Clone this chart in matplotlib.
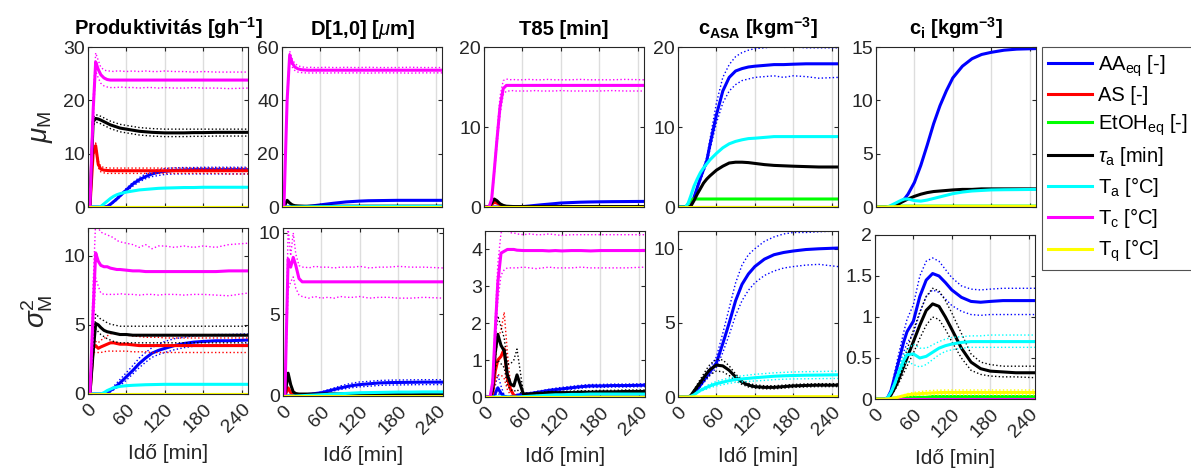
import matplotlib
matplotlib.use('Agg')
import matplotlib.pyplot as plt
from matplotlib.lines import Line2D

plt.rcParams['font.family'] = ['Liberation Sans', 'DejaVu Sans']
plt.rcParams['mathtext.fontset'] = 'custom'
plt.rcParams['mathtext.rm'] = 'Liberation Sans'
plt.rcParams['mathtext.it'] = 'Liberation Sans:italic'
plt.rcParams['mathtext.bf'] = 'Liberation Sans:bold'
plt.rcParams['mathtext.default'] = 'regular'

# time grid [min]
t_min = [0, 3, 8, 12, 16, 20, 25, 30, 35, 40, 45, 50, 60, 70, 80, 90, 100, 110, 120, 135, 150, 165, 180, 200, 220, 250]
zero_line = [0, 0, 0, 0, 0, 0, 0, 0, 0, 0, 0, 0, 0, 0, 0, 0, 0, 0, 0, 0, 0, 0, 0, 0, 0, 0]

# --- Produktivitas, mean ---
prod_mu_aa = [0, 0, 0, 0, 0, 0, 0, 0.1, 0.5, 1.0, 1.5, 2.1, 3.2, 4.3, 5.1, 5.7, 6.2, 6.5, 6.7, 6.85, 6.95, 7.0, 7.0, 7.0, 7.0, 7.0]
prod_mu_aa_hi = [0, 0, 0, 0, 0, 0, 0, 0.15, 0.6, 1.15, 1.7, 2.3, 3.5, 4.6, 5.5, 6.2, 6.7, 7.0, 7.2, 7.35, 7.4, 7.4, 7.45, 7.45, 7.45, 7.45]
prod_mu_aa_lo = [0, 0, 0, 0, 0, 0, 0, 0.05, 0.4, 0.85, 1.3, 1.9, 2.9, 3.9, 4.7, 5.3, 5.7, 5.9, 6.1, 6.2, 6.2, 6.2, 6.2, 6.2, 6.2, 6.2]
prod_mu_as = [0, 0, 10.0, 11.5, 8.0, 7.1, 6.9, 6.85, 6.8, 6.8, 6.8, 6.8, 6.8, 6.8, 6.8, 6.8, 6.8, 6.8, 6.8, 6.8, 6.8, 6.8, 6.8, 6.8, 6.8, 6.8]
prod_mu_as_hi = [0, 0, 10.5, 12.0, 8.6, 7.6, 7.4, 7.35, 7.3, 7.3, 7.3, 7.3, 7.3, 7.3, 7.3, 7.3, 7.3, 7.3, 7.3, 7.3, 7.3, 7.3, 7.3, 7.3, 7.3, 7.3]
prod_mu_as_lo = [0, 0, 9.5, 11.0, 7.4, 6.6, 6.4, 6.3, 6.3, 6.3, 6.3, 6.3, 6.3, 6.3, 6.3, 6.3, 6.3, 6.3, 6.3, 6.3, 6.3, 6.3, 6.3, 6.3, 6.2, 6.2]
prod_mu_tau = [0, 0, 16.0, 16.6, 16.5, 16.3, 16.0, 15.7, 15.4, 15.2, 15.0, 14.8, 14.6, 14.4, 14.2, 14.1, 14.0, 13.95, 13.9, 13.9, 13.9, 13.95, 13.95, 14.0, 14.0, 14.0]
prod_mu_tau_hi = [0, 0, 16.7, 17.3, 17.2, 17.0, 16.7, 16.4, 16.1, 15.9, 15.7, 15.5, 15.3, 15.1, 14.9, 14.8, 14.7, 14.65, 14.6, 14.6, 14.6, 14.6, 14.6, 14.6, 14.6, 14.6]
prod_mu_tau_lo = [0, 0, 15.3, 15.9, 15.8, 15.6, 15.3, 15.0, 14.7, 14.5, 14.3, 14.1, 13.9, 13.7, 13.5, 13.4, 13.3, 13.25, 13.2, 13.2, 13.2, 13.25, 13.25, 13.3, 13.3, 13.3]
prod_mu_ta = [0, 0, 0, 0, 0, 0.1, 0.6, 1.1, 1.6, 2.0, 2.3, 2.5, 2.8, 3.0, 3.2, 3.3, 3.4, 3.5, 3.55, 3.6, 3.65, 3.65, 3.7, 3.7, 3.7, 3.7]
prod_mu_tc = [0, 0, 18.0, 27.2, 25.8, 24.8, 24.2, 23.9, 23.8, 23.8, 23.8, 23.8, 23.8, 23.8, 23.8, 23.8, 23.8, 23.8, 23.8, 23.8, 23.8, 23.8, 23.8, 23.8, 23.8, 23.8]
prod_mu_tc_hi = [0, 0, 20.0, 28.9, 27.5, 26.2, 25.7, 25.5, 25.5, 25.4, 25.5, 25.5, 25.4, 25.5, 25.4, 25.5, 25.4, 25.4, 25.5, 25.4, 25.4, 25.3, 25.4, 25.3, 25.3, 25.3]
prod_mu_tc_lo = [0, 0, 16.0, 25.5, 24.2, 23.2, 22.7, 22.5, 22.4, 22.4, 22.4, 22.5, 22.4, 22.4, 22.3, 22.4, 22.4, 22.3, 22.4, 22.3, 22.3, 22.4, 22.3, 22.3, 22.2, 22.3]

# --- Produktivitas, variance ---
prod_var_aa = [0, 0, 0, 0, 0, 0, 0, 0.1, 0.25, 0.4, 0.6, 0.8, 1.25, 1.7, 2.2, 2.6, 2.95, 3.15, 3.3, 3.5, 3.65, 3.75, 3.8, 3.85, 3.85, 3.9]
prod_var_aa_hi = [0, 0, 0, 0, 0, 0, 0, 0.15, 0.35, 0.55, 0.8, 1.05, 1.55, 2.05, 2.6, 3.0, 3.35, 3.6, 3.8, 4.0, 4.1, 4.2, 4.25, 4.3, 4.3, 4.35]
prod_var_aa_lo = [0, 0, 0, 0, 0, 0, 0, 0.05, 0.15, 0.3, 0.45, 0.6, 1.0, 1.45, 1.9, 2.3, 2.65, 2.85, 3.0, 3.2, 3.35, 3.45, 3.5, 3.55, 3.55, 3.6]
prod_var_as = [0, 0, 3.3, 3.5, 3.3, 3.4, 3.5, 3.6, 3.7, 3.7, 3.65, 3.6, 3.6, 3.55, 3.5, 3.5, 3.5, 3.5, 3.5, 3.5, 3.5, 3.5, 3.5, 3.5, 3.5, 3.5]
prod_var_as_hi = [0, 0, 3.6, 3.8, 3.7, 3.9, 4.0, 4.2, 4.35, 4.4, 4.35, 4.3, 4.25, 4.2, 4.15, 4.1, 4.1, 4.1, 4.05, 4.05, 4.05, 4.05, 4.05, 4.05, 4.05, 4.05]
prod_var_as_lo = [0, 0, 3.0, 3.0, 3.0, 3.0, 3.05, 3.1, 3.1, 3.1, 3.1, 3.1, 3.1, 3.05, 3.05, 3.05, 3.0, 3.0, 3.0, 3.0, 3.0, 3.0, 3.0, 3.0, 3.0, 3.0]
prod_var_tau = [0, 0, 3.0, 5.1, 5.0, 4.8, 4.6, 4.5, 4.45, 4.4, 4.35, 4.3, 4.3, 4.25, 4.25, 4.25, 4.25, 4.25, 4.25, 4.25, 4.25, 4.25, 4.25, 4.25, 4.25, 4.25]
prod_var_tau_hi = [0, 0, 3.5, 5.8, 5.6, 5.4, 5.3, 5.15, 5.05, 5.0, 4.95, 4.9, 4.9, 4.9, 4.9, 4.9, 4.9, 4.9, 4.9, 4.9, 4.9, 4.9, 4.9, 4.9, 4.9, 4.9]
prod_var_tau_lo = [0, 0, 2.6, 4.7, 4.5, 4.3, 4.15, 4.0, 3.9, 3.8, 3.75, 3.7, 3.7, 3.7, 3.7, 3.7, 3.7, 3.7, 3.7, 3.7, 3.7, 3.7, 3.7, 3.7, 3.7, 3.7]
prod_var_ta = [0, 0, 0, 0, 0, 0, 0.1, 0.25, 0.35, 0.45, 0.5, 0.55, 0.6, 0.63, 0.65, 0.67, 0.68, 0.69, 0.7, 0.7, 0.7, 0.7, 0.7, 0.7, 0.7, 0.7]
prod_var_tc = [0, 0, 6.0, 10.2, 9.6, 9.3, 9.2, 9.2, 9.1, 9.05, 9.0, 9.0, 8.95, 8.9, 8.9, 8.85, 8.85, 8.85, 8.85, 8.85, 8.85, 8.85, 8.85, 8.85, 8.9, 8.9]
prod_var_tc_hi = [0, 0, 8.0, 12.5, 12.0, 11.7, 11.6, 11.5, 11.4, 11.3, 11.1, 11.0, 10.9, 10.8, 10.6, 10.8, 10.5, 10.7, 10.7, 10.6, 10.7, 10.6, 10.7, 10.6, 10.8, 10.9]
prod_var_tc_lo = [0, 0, 4.0, 8.4, 7.8, 7.3, 7.2, 7.2, 7.2, 7.2, 7.2, 7.25, 7.2, 7.2, 7.15, 7.2, 7.2, 7.15, 7.2, 7.2, 7.15, 7.2, 7.2, 7.15, 7.1, 7.3]

# --- D[1,0], mean ---
dia_mu_aa = [0, 0, 0, 0, 0, 0, 0, 0, 0.05, 0.2, 0.35, 0.5, 0.8, 1.1, 1.4, 1.65, 1.9, 2.05, 2.2, 2.35, 2.4, 2.45, 2.5, 2.5, 2.5, 2.5]
dia_mu_tau = [0, 0, 2.5, 1.5, 0.8, 0.5, 0.4, 0.35, 0.3, 0.3, 0.3, 0.3, 0.3, 0.3, 0.3, 0.3, 0.3, 0.3, 0.3, 0.3, 0.3, 0.3, 0.3, 0.3, 0.3, 0.3]
dia_mu_ta = [0, 0, 0, 0, 0, 0, 0.02, 0.04, 0.06, 0.08, 0.09, 0.1, 0.12, 0.14, 0.16, 0.18, 0.19, 0.2, 0.2, 0.22, 0.23, 0.24, 0.25, 0.25, 0.25, 0.25]
dia_mu_tc = [0, 0, 40.0, 57.0, 54.0, 52.5, 51.8, 51.5, 51.4, 51.3, 51.3, 51.3, 51.3, 51.3, 51.3, 51.3, 51.3, 51.3, 51.3, 51.3, 51.3, 51.3, 51.3, 51.3, 51.3, 51.3]
dia_mu_tc_hi = [0, 0, 42.0, 58.5, 55.5, 53.8, 53.0, 52.6, 52.4, 52.3, 52.4, 52.3, 52.3, 52.4, 52.3, 52.3, 52.4, 52.3, 52.3, 52.4, 52.3, 52.3, 52.3, 52.4, 52.3, 52.3]
dia_mu_tc_lo = [0, 0, 38.0, 55.5, 52.5, 51.2, 50.6, 50.4, 50.3, 50.3, 50.2, 50.3, 50.3, 50.2, 50.3, 50.3, 50.2, 50.3, 50.3, 50.2, 50.3, 50.3, 50.3, 50.2, 50.3, 50.3]

# --- D[1,0], variance ---
dia_var_aa = [0, 0, 0, 0, 0, 0, 0, 0.05, 0.07, 0.1, 0.12, 0.15, 0.2, 0.3, 0.4, 0.5, 0.58, 0.65, 0.7, 0.75, 0.8, 0.82, 0.83, 0.84, 0.85, 0.85]
dia_var_aa_hi = [0, 0, 0, 0, 0, 0, 0, 0.06, 0.09, 0.12, 0.15, 0.18, 0.25, 0.38, 0.5, 0.62, 0.72, 0.8, 0.86, 0.9, 0.95, 0.97, 0.98, 0.99, 1.0, 1.0]
dia_var_aa_lo = [0, 0, 0, 0, 0, 0, 0, 0.04, 0.06, 0.08, 0.1, 0.12, 0.16, 0.24, 0.32, 0.4, 0.46, 0.52, 0.56, 0.6, 0.65, 0.67, 0.68, 0.69, 0.7, 0.7]
dia_var_as = [0, 0, 0.5, 0.2, 0.05, 0, 0, 0, 0, 0, 0, 0, 0, 0, 0, 0, 0, 0, 0, 0, 0, 0, 0, 0, 0, 0]
dia_var_tau = [0, 0, 1.4, 0.7, 0.25, 0.15, 0.12, 0.12, 0.12, 0.12, 0.12, 0.12, 0.12, 0.13, 0.13, 0.13, 0.14, 0.14, 0.14, 0.14, 0.15, 0.15, 0.15, 0.15, 0.15, 0.15]
dia_var_ta = [0, 0, 0, 0, 0, 0, 0.01, 0.02, 0.03, 0.04, 0.05, 0.06, 0.08, 0.1, 0.12, 0.14, 0.16, 0.18, 0.2, 0.21, 0.22, 0.23, 0.24, 0.24, 0.25, 0.25]
dia_var_tc = [0, 0, 8.4, 7.9, 8.5, 8.0, 7.2, 7.0, 7.0, 7.0, 7.0, 7.0, 7.0, 7.0, 7.0, 7.0, 7.0, 7.0, 7.0, 7.0, 7.0, 7.0, 7.0, 7.0, 7.0, 7.0]
dia_var_tc_hi = [0, 0, 10.3, 8.6, 10.0, 8.7, 8.0, 7.9, 7.9, 7.85, 7.9, 7.95, 7.9, 7.9, 7.85, 7.9, 7.9, 7.9, 7.95, 7.85, 7.9, 7.9, 7.95, 7.9, 7.9, 7.85]
dia_var_tc_lo = [0, 0, 6.5, 7.0, 7.3, 6.6, 6.2, 6.1, 6.05, 6.0, 6.05, 6.1, 6.0, 6.05, 6.0, 6.1, 6.05, 6.05, 6.1, 6.0, 6.05, 6.05, 6.0, 6.0, 6.05, 6.0]

# --- T85, mean ---
t85_mu_aa = [0, 0, 0, 0, 0, 0, 0, 0, 0, 0, 0, 0.02, 0.05, 0.12, 0.2, 0.28, 0.35, 0.42, 0.5, 0.55, 0.6, 0.63, 0.65, 0.67, 0.68, 0.7]
t85_mu_as = [0, 0, 0, 0.3, 0.6, 0.5, 0.3, 0.1, 0, 0, 0, 0, 0, 0, 0, 0, 0, 0, 0, 0, 0, 0, 0, 0, 0, 0]
t85_mu_tau = [0, 0, 0, 0.5, 1.0, 0.8, 0.4, 0.2, 0.1, 0.08, 0.06, 0.05, 0.05, 0.05, 0.05, 0.05, 0.05, 0.05, 0.05, 0.05, 0.05, 0.05, 0.05, 0.05, 0.05, 0.05]
t85_mu_tc = [0, 0, 0, 1.0, 4.5, 8.2, 12.5, 14.8, 15.2, 15.2, 15.2, 15.2, 15.2, 15.2, 15.2, 15.2, 15.2, 15.2, 15.2, 15.2, 15.2, 15.2, 15.2, 15.2, 15.2, 15.2]
t85_mu_tc_hi = [0, 0, 0, 1.2, 5.0, 9.0, 13.8, 15.8, 16.0, 15.9, 15.95, 15.9, 15.9, 15.95, 15.9, 15.9, 15.95, 15.9, 15.9, 15.9, 15.95, 15.9, 15.9, 15.9, 15.95, 15.9]
t85_mu_tc_lo = [0, 0, 0, 0.8, 4.0, 7.5, 11.5, 14.0, 14.5, 14.5, 14.55, 14.5, 14.5, 14.5, 14.55, 14.5, 14.5, 14.5, 14.55, 14.5, 14.5, 14.5, 14.5, 14.55, 14.5, 14.5]

# --- T85, variance ---
t85_var_aa = [0, 0, 0, 0.02, 0.1, 0.25, 0.1, 0.02, 0, 0, 0.02, 0.05, 0.07, 0.09, 0.12, 0.15, 0.18, 0.2, 0.22, 0.25, 0.28, 0.3, 0.3, 0.31, 0.31, 0.32]
t85_var_aa_hi = [0, 0, 0, 0.05, 0.3, 0.6, 0.3, 0.05, 0, 0, 0.03, 0.06, 0.09, 0.12, 0.15, 0.18, 0.21, 0.24, 0.26, 0.29, 0.32, 0.34, 0.34, 0.35, 0.35, 0.36]
t85_var_aa_lo = [0, 0, 0, 0, 0.05, 0.1, 0.04, 0, 0, 0, 0.01, 0.03, 0.05, 0.07, 0.09, 0.12, 0.15, 0.17, 0.19, 0.21, 0.24, 0.26, 0.26, 0.27, 0.27, 0.28]
t85_var_as = [0, 0, 0, 0.1, 0.7, 1.0, 1.1, 1.3, 0.5, 0.2, 0.05, 0, 0, 0, 0, 0, 0, 0, 0, 0, 0, 0, 0, 0, 0, 0]
t85_var_as_hi = [0, 0, 0, 0.15, 1.0, 1.6, 1.8, 2.3, 1.2, 0.3, 0.05, 0, 0, 0, 0, 0, 0, 0, 0, 0, 0, 0, 0, 0, 0, 0]
t85_var_as_lo = [0, 0, 0, 0.05, 0.4, 0.6, 0.6, 0.5, 0.2, 0.05, 0, 0, 0, 0, 0, 0, 0, 0, 0, 0, 0, 0, 0, 0, 0, 0]
t85_var_tau = [0, 0, 0, 0.2, 1.2, 1.7, 1.4, 1.25, 0.6, 0.35, 0.3, 0.6, 0.08, 0.08, 0.1, 0.1, 0.12, 0.12, 0.12, 0.12, 0.13, 0.13, 0.14, 0.14, 0.15, 0.15]
t85_var_tau_hi = [0, 0, 0, 0.3, 1.6, 2.2, 1.9, 1.6, 0.9, 0.9, 1.0, 1.3, 0.1, 0.1, 0.12, 0.13, 0.15, 0.15, 0.15, 0.16, 0.17, 0.17, 0.18, 0.18, 0.19, 0.19]
t85_var_tau_lo = [0, 0, 0, 0.1, 0.8, 1.0, 0.9, 0.8, 0.3, 0.2, 0.15, 0.2, 0.05, 0.05, 0.06, 0.07, 0.08, 0.08, 0.09, 0.09, 0.1, 0.1, 0.1, 0.1, 0.1, 0.1]
t85_var_ta = [0, 0, 0, 0, 0, 0, 0, 0, 0, 0, 0, 0, 0.01, 0.02, 0.03, 0.04, 0.05, 0.06, 0.06, 0.07, 0.07, 0.08, 0.08, 0.08, 0.08, 0.08]
t85_var_tc = [0, 0, 0, 0.4, 1.8, 3.1, 3.9, 3.95, 4.0, 4.0, 4.0, 3.98, 3.97, 3.97, 3.97, 3.97, 3.96, 3.97, 3.96, 3.97, 3.97, 3.96, 3.97, 3.97, 3.97, 3.97]
t85_var_tc_hi = [0, 0, 0, 0.5, 2.1, 3.6, 4.45, 4.5, 4.5, 4.45, 4.45, 4.42, 4.4, 4.42, 4.4, 4.4, 4.42, 4.4, 4.38, 4.4, 4.4, 4.4, 4.4, 4.4, 4.4, 4.4]
t85_var_tc_lo = [0, 0, 0, 0.3, 1.5, 2.6, 3.3, 3.45, 3.5, 3.5, 3.5, 3.5, 3.52, 3.5, 3.48, 3.5, 3.52, 3.5, 3.5, 3.5, 3.52, 3.5, 3.5, 3.5, 3.5, 3.52]

# --- c_ASA, mean ---
asa_mu_aa = [0, 0, 0, 0, 0, 0.1, 1.2, 2.4, 3.6, 4.7, 5.8, 7.8, 11.5, 14.5, 16.2, 17.0, 17.3, 17.5, 17.6, 17.7, 17.8, 17.8, 17.85, 17.9, 17.9, 17.9]
asa_mu_aa_hi = [0, 0, 0, 0, 0, 0.1, 1.3, 2.6, 3.9, 5.0, 6.2, 8.5, 13.0, 16.2, 17.8, 18.8, 19.3, 19.6, 19.8, 19.9, 20.0, 19.95, 20.0, 19.9, 19.9, 19.9]
asa_mu_aa_lo = [0, 0, 0, 0, 0, 0.1, 1.1, 2.2, 3.3, 4.4, 5.4, 7.2, 10.5, 13.0, 14.5, 15.3, 15.8, 16.0, 16.2, 16.3, 16.4, 16.2, 16.4, 16.3, 16.1, 16.2]
asa_mu_etoh = [0, 0, 0, 0, 0.4, 0.9, 1.0, 1.0, 1.0, 1.0, 1.0, 1.0, 1.0, 1.0, 1.0, 1.0, 1.0, 1.0, 1.0, 1.0, 1.0, 1.0, 1.0, 1.0, 1.0, 1.0]
asa_mu_tau = [0, 0, 0, 0, 0, 0.1, 0.8, 1.6, 2.3, 3.0, 3.5, 3.9, 4.6, 5.1, 5.5, 5.6, 5.6, 5.55, 5.45, 5.3, 5.2, 5.15, 5.1, 5.05, 5.0, 5.0]
asa_mu_ta = [0, 0, 0, 0, 0.5, 1.4, 2.6, 3.5, 4.3, 4.9, 5.4, 5.9, 6.7, 7.4, 7.9, 8.2, 8.4, 8.55, 8.6, 8.7, 8.8, 8.8, 8.8, 8.8, 8.8, 8.8]

# --- c_ASA, variance ---
asa_var_aa = [0, 0, 0, 0, 0, 0, 0.2, 0.5, 0.8, 1.1, 1.4, 1.7, 2.3, 3.6, 5.0, 6.5, 7.6, 8.3, 8.8, 9.3, 9.6, 9.75, 9.85, 9.95, 10.0, 10.05]
asa_var_aa_hi = [0, 0, 0, 0, 0, 0, 0.25, 0.6, 0.95, 1.3, 1.65, 2.0, 2.7, 4.3, 6.0, 7.7, 8.9, 9.6, 10.0, 10.5, 10.8, 11.0, 11.1, 11.1, 11.15, 11.2]
asa_var_aa_lo = [0, 0, 0, 0, 0, 0, 0.15, 0.4, 0.7, 0.95, 1.2, 1.45, 2.0, 3.0, 4.2, 5.5, 6.5, 7.2, 7.7, 8.2, 8.5, 8.7, 8.8, 8.9, 8.95, 8.8]
asa_var_tau = [0, 0, 0, 0, 0, 0.1, 0.4, 0.7, 1.0, 1.3, 1.6, 1.85, 2.15, 2.1, 1.8, 1.35, 1.0, 0.8, 0.7, 0.65, 0.65, 0.7, 0.75, 0.78, 0.8, 0.8]
asa_var_tau_hi = [0, 0, 0, 0, 0, 0.12, 0.5, 0.85, 1.2, 1.55, 1.9, 2.2, 2.55, 2.5, 2.1, 1.55, 1.15, 0.92, 0.82, 0.76, 0.76, 0.8, 0.85, 0.88, 0.9, 0.9]
asa_var_tau_lo = [0, 0, 0, 0, 0, 0.08, 0.3, 0.55, 0.8, 1.05, 1.3, 1.5, 1.75, 1.7, 1.45, 1.1, 0.85, 0.68, 0.6, 0.55, 0.55, 0.6, 0.65, 0.68, 0.7, 0.7]
asa_var_ta = [0, 0, 0, 0, 0, 0.05, 0.15, 0.3, 0.45, 0.55, 0.65, 0.75, 0.9, 1.0, 1.1, 1.18, 1.22, 1.26, 1.3, 1.35, 1.4, 1.43, 1.45, 1.47, 1.48, 1.5]
asa_var_ta_hi = [0, 0, 0, 0, 0, 0.06, 0.18, 0.35, 0.52, 0.64, 0.76, 0.88, 1.05, 1.17, 1.28, 1.37, 1.43, 1.48, 1.53, 1.58, 1.63, 1.66, 1.69, 1.71, 1.72, 1.75]
asa_var_ta_lo = [0, 0, 0, 0, 0, 0.04, 0.12, 0.25, 0.38, 0.46, 0.54, 0.62, 0.75, 0.83, 0.92, 0.99, 1.02, 1.05, 1.08, 1.12, 1.17, 1.2, 1.22, 1.23, 1.24, 1.25]
asa_var_tq = [0, 0, 0, 0, 0, 0, 0.01, 0.01, 0.01, 0.02, 0.02, 0.02, 0.02, 0.02, 0.02, 0.02, 0.02, 0.02, 0.02, 0.02, 0.02, 0.02, 0.02, 0.02, 0.02, 0.02]

# --- c_i, mean ---
ci_mu_aa = [0, 0, 0, 0, 0, 0, 0, 0.1, 0.25, 0.5, 0.8, 1.2, 2.3, 3.9, 5.8, 7.8, 9.5, 10.9, 12.1, 13.2, 13.9, 14.3, 14.5, 14.7, 14.8, 14.85]
ci_mu_etoh = [0, 0, 0, 0, 0, 0.05, 0.08, 0.08, 0.08, 0.08, 0.08, 0.08, 0.08, 0.08, 0.08, 0.08, 0.08, 0.08, 0.08, 0.08, 0.08, 0.08, 0.08, 0.08, 0.08, 0.08]
ci_mu_tau = [0, 0, 0, 0, 0, 0, 0.05, 0.15, 0.3, 0.45, 0.6, 0.75, 1.0, 1.2, 1.35, 1.45, 1.5, 1.55, 1.6, 1.65, 1.65, 1.7, 1.7, 1.7, 1.7, 1.7]
ci_mu_ta = [0, 0, 0, 0, 0, 0.05, 0.2, 0.35, 0.5, 0.65, 0.75, 0.75, 0.6, 0.55, 0.65, 0.8, 0.95, 1.1, 1.25, 1.4, 1.5, 1.55, 1.6, 1.62, 1.63, 1.65]
ci_mu_tq = [0, 0, 0, 0, 0, 0.01, 0.02, 0.03, 0.03, 0.04, 0.04, 0.04, 0.05, 0.05, 0.05, 0.05, 0.05, 0.05, 0.05, 0.05, 0.05, 0.05, 0.05, 0.05, 0.05, 0.05]

# --- c_i, variance ---
ci_var_aa = [0, 0, 0, 0, 0, 0.02, 0.1, 0.25, 0.4, 0.55, 0.7, 0.82, 0.95, 1.25, 1.45, 1.53, 1.5, 1.42, 1.33, 1.24, 1.19, 1.18, 1.19, 1.2, 1.2, 1.2]
ci_var_aa_hi = [0, 0, 0, 0, 0, 0.02, 0.12, 0.3, 0.48, 0.65, 0.82, 0.97, 1.15, 1.5, 1.68, 1.72, 1.68, 1.58, 1.48, 1.38, 1.34, 1.33, 1.34, 1.35, 1.35, 1.35]
ci_var_aa_lo = [0, 0, 0, 0, 0, 0.02, 0.08, 0.2, 0.33, 0.45, 0.58, 0.68, 0.8, 1.05, 1.25, 1.33, 1.3, 1.22, 1.14, 1.07, 1.03, 1.02, 1.03, 1.03, 1.03, 1.03]
ci_var_etoh = [0, 0, 0, 0, 0, 0, 0.01, 0.01, 0.01, 0.02, 0.02, 0.02, 0.02, 0.02, 0.02, 0.03, 0.03, 0.03, 0.03, 0.03, 0.03, 0.03, 0.03, 0.03, 0.03, 0.03]
ci_var_tau = [0, 0, 0, 0, 0, 0, 0.05, 0.12, 0.2, 0.3, 0.4, 0.5, 0.7, 0.9, 1.08, 1.16, 1.13, 1.0, 0.85, 0.62, 0.45, 0.37, 0.34, 0.33, 0.32, 0.32]
ci_var_tau_hi = [0, 0, 0, 0, 0, 0, 0.06, 0.14, 0.24, 0.36, 0.48, 0.6, 0.84, 1.06, 1.25, 1.35, 1.32, 1.2, 1.05, 0.8, 0.55, 0.45, 0.42, 0.4, 0.4, 0.4]
ci_var_tau_lo = [0, 0, 0, 0, 0, 0, 0.04, 0.1, 0.16, 0.24, 0.32, 0.4, 0.56, 0.74, 0.9, 1.0, 0.97, 0.85, 0.7, 0.5, 0.35, 0.3, 0.28, 0.27, 0.27, 0.26]
ci_var_ta = [0, 0, 0, 0, 0, 0.02, 0.08, 0.17, 0.28, 0.38, 0.47, 0.54, 0.55, 0.5, 0.52, 0.57, 0.62, 0.65, 0.67, 0.69, 0.7, 0.7, 0.7, 0.7, 0.7, 0.7]
ci_var_ta_hi = [0, 0, 0, 0, 0, 0.02, 0.09, 0.19, 0.32, 0.44, 0.54, 0.6, 0.67, 0.62, 0.62, 0.66, 0.7, 0.73, 0.75, 0.76, 0.77, 0.77, 0.78, 0.78, 0.78, 0.78]
ci_var_ta_lo = [0, 0, 0, 0, 0, 0.02, 0.07, 0.15, 0.24, 0.33, 0.41, 0.46, 0.42, 0.39, 0.42, 0.48, 0.54, 0.58, 0.6, 0.62, 0.63, 0.63, 0.63, 0.63, 0.63, 0.63]
ci_var_tq = [0, 0, 0, 0, 0, 0, 0.005, 0.01, 0.02, 0.03, 0.04, 0.05, 0.06, 0.065, 0.07, 0.075, 0.078, 0.08, 0.08, 0.08, 0.08, 0.08, 0.08, 0.08, 0.08, 0.08]
ci_var_tq_hi = [0, 0, 0, 0, 0, 0, 0.01, 0.02, 0.03, 0.04, 0.05, 0.065, 0.08, 0.09, 0.1, 0.105, 0.108, 0.11, 0.11, 0.11, 0.11, 0.11, 0.11, 0.11, 0.11, 0.11]
ci_var_tq_lo = [0, 0, 0, 0, 0, 0, 0, 0.005, 0.01, 0.02, 0.03, 0.035, 0.04, 0.045, 0.05, 0.05, 0.05, 0.05, 0.05, 0.05, 0.05, 0.05, 0.05, 0.05, 0.05, 0.05]

series_labels = [r'AA$_{eq}$ [-]', 'AS [-]', r'EtOH$_{eq}$ [-]', r'$\mathit{\tau}_a$ [min]',
                 r'T$_a$ [°C]', r'T$_c$ [°C]', r'T$_q$ [°C]']
series_colors = ['#0000ff', '#ff0000', '#00ff00', '#000000', '#00ffff', '#ff00ff', '#ffff00']

col_titles = [r'Produktivitás [gh$^{\mathbf{-1}}$]', r'D[1,0] [$\mathit{\mu}$m]', 'T85 [min]',
              r'c$_{\mathbf{ASA}}$ [kgm$^{\mathbf{-3}}$]', r'c$_{\mathbf{i}}$ [kgm$^{\mathbf{-3}}$]']
x_ticks = [0, 60, 120, 180, 240]

# (mean, hi, lo) per series in legend order
panels = [
    # top row
    dict(ylim=30, yticks=[0, 10, 20, 30], lines=[
        (prod_mu_aa, prod_mu_aa_hi, prod_mu_aa_lo), (prod_mu_as, prod_mu_as_hi, prod_mu_as_lo),
        (zero_line, None, None), (prod_mu_tau, prod_mu_tau_hi, prod_mu_tau_lo),
        (prod_mu_ta, None, None), (prod_mu_tc, prod_mu_tc_hi, prod_mu_tc_lo), (zero_line, None, None)]),
    dict(ylim=60, yticks=[0, 20, 40, 60], lines=[
        (dia_mu_aa, None, None), (zero_line, None, None), (zero_line, None, None),
        (dia_mu_tau, None, None), (dia_mu_ta, None, None),
        (dia_mu_tc, dia_mu_tc_hi, dia_mu_tc_lo), (zero_line, None, None)]),
    dict(ylim=20, yticks=[0, 10, 20], lines=[
        (t85_mu_aa, None, None), (t85_mu_as, None, None), (zero_line, None, None),
        (t85_mu_tau, None, None), (zero_line, None, None),
        (t85_mu_tc, t85_mu_tc_hi, t85_mu_tc_lo), (zero_line, None, None)]),
    dict(ylim=20, yticks=[0, 10, 20], lines=[
        (asa_mu_aa, asa_mu_aa_hi, asa_mu_aa_lo), (zero_line, None, None), (asa_mu_etoh, None, None),
        (asa_mu_tau, None, None), (asa_mu_ta, None, None), (zero_line, None, None), (zero_line, None, None)]),
    dict(ylim=15, yticks=[0, 5, 10, 15], lines=[
        (ci_mu_aa, None, None), (zero_line, None, None), (ci_mu_etoh, None, None),
        (ci_mu_tau, None, None), (ci_mu_ta, None, None), (zero_line, None, None), (ci_mu_tq, None, None)]),
    # bottom row
    dict(ylim=12, yticks=[0, 5, 10], lines=[
        (prod_var_aa, prod_var_aa_hi, prod_var_aa_lo), (prod_var_as, prod_var_as_hi, prod_var_as_lo),
        (zero_line, None, None), (prod_var_tau, prod_var_tau_hi, prod_var_tau_lo),
        (prod_var_ta, None, None), (prod_var_tc, prod_var_tc_hi, prod_var_tc_lo), (zero_line, None, None)]),
    dict(ylim=10.3, yticks=[0, 5, 10], lines=[
        (dia_var_aa, dia_var_aa_hi, dia_var_aa_lo), (dia_var_as, None, None), (zero_line, None, None),
        (dia_var_tau, None, None), (dia_var_ta, None, None),
        (dia_var_tc, dia_var_tc_hi, dia_var_tc_lo), (zero_line, None, None)]),
    dict(ylim=4.5, yticks=[0, 1, 2, 3, 4], lines=[
        (t85_var_aa, t85_var_aa_hi, t85_var_aa_lo), (t85_var_as, t85_var_as_hi, t85_var_as_lo),
        (zero_line, None, None), (t85_var_tau, t85_var_tau_hi, t85_var_tau_lo),
        (t85_var_ta, None, None), (t85_var_tc, t85_var_tc_hi, t85_var_tc_lo), (zero_line, None, None)]),
    dict(ylim=11.2, yticks=[0, 5, 10], lines=[
        (asa_var_aa, asa_var_aa_hi, asa_var_aa_lo), (zero_line, None, None), (zero_line, None, None),
        (asa_var_tau, asa_var_tau_hi, asa_var_tau_lo), (asa_var_ta, asa_var_ta_hi, asa_var_ta_lo),
        (zero_line, None, None), (asa_var_tq, None, None)]),
    dict(ylim=2, yticks=[0, 0.5, 1, 1.5, 2], lines=[
        (ci_var_aa, ci_var_aa_hi, ci_var_aa_lo), (zero_line, None, None), (ci_var_etoh, None, None),
        (ci_var_tau, ci_var_tau_hi, ci_var_tau_lo), (ci_var_ta, ci_var_ta_hi, ci_var_ta_lo),
        (zero_line, None, None), (ci_var_tq, ci_var_tq_hi, ci_var_tq_lo)]),
]

W, H = 1191, 472
fig = plt.figure(figsize=(W / 100, H / 100), dpi=100)

# axes boxes in pixels: left, top, bottom
top_boxes = [(88, 47, 207), (282, 47, 207), (484, 47, 207), (678, 47, 207), (876, 47, 207)]
bot_boxes = [(88, 228, 394), (283, 228, 396), (485, 231, 397), (678, 231, 397), (875, 235, 399)]
ax_w = 160

axis_color = '#262626'
for i, p in enumerate(panels):
    row, col = divmod(i, 5)
    left, top, bottom = (top_boxes if row == 0 else bot_boxes)[col]
    ax = fig.add_axes([left / W, 1 - bottom / H, ax_w / W, (bottom - top) / H])
    for (mean, hi, lo), c in zip(p['lines'], series_colors):
        if hi is not None:
            ax.plot(t_min, hi, ls=':', color=c, lw=1.0)
            ax.plot(t_min, lo, ls=':', color=c, lw=1.0)
        ax.plot(t_min, mean, color=c, lw=2.2, solid_joinstyle='round')
    ax.set_xlim(0, 250)
    ax.set_ylim(0, p['ylim'])
    ax.set_yticks(p['yticks'])
    ax.set_yticklabels([f'{v:g}' for v in p['yticks']])
    ax.set_xticks(x_ticks)
    ax.grid(axis='x', color='#dddddd', lw=1)
    ax.set_axisbelow(True)
    ax.tick_params(direction='in', top=True, right=True, length=3, labelsize=14,
                   colors=axis_color, pad=2)
    for s in ax.spines.values():
        s.set_color(axis_color)
        s.set_linewidth(0.8)
    if row == 0:
        ax.set_xticklabels([])
        ax.set_title(col_titles[col], fontsize=14.5, fontweight='bold', pad=9)
    else:
        ax.set_xticklabels([str(v) for v in x_ticks], rotation=45, ha='right',
                           va='top', rotation_mode='anchor')
        ax.tick_params(axis='x', pad=5)
        ax.set_xlabel('Idő [min]', fontsize=15, color=axis_color, labelpad=6)
    if col == 0:
        ax.set_ylabel(r'$\mathit{\mu}_M$' if row == 0 else r'$\mathit{\sigma}^2_M$', fontsize=20,
                      color=axis_color, labelpad=6)

handles = [Line2D([0], [0], color=c, lw=2.2) for c in series_colors]
leg = fig.legend(handles, series_labels, loc='upper left',
                 bbox_to_anchor=(1042 / W, 1 - 47 / H), fontsize=14.5,
                 frameon=True, fancybox=False, edgecolor=axis_color,
                 handlelength=2.2, handletextpad=0.3, labelspacing=0.36,
                 borderpad=0.3, borderaxespad=0)
leg.get_frame().set_linewidth(0.8)

fig.savefig('out.png', dpi=100)
